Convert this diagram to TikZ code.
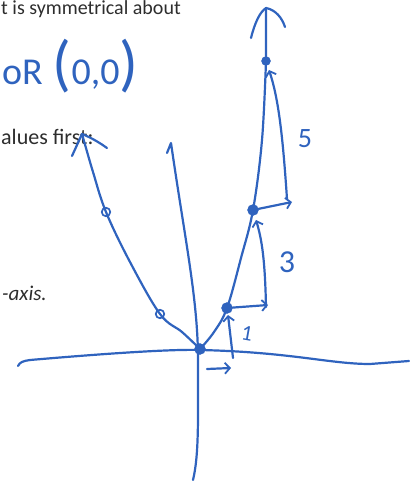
\documentclass[tikz,border=0pt]{standalone}
\usepackage{fontspec}
\setmainfont{Carlito}
\usepackage{xcolor}
\usepackage{tikz}
\usetikzlibrary{arrows.meta}
\definecolor{ink}{RGB}{47,99,190}
\definecolor{printed}{RGB}{45,45,45}

\begin{document}
\begin{tikzpicture}[
        x=1pt, y=-1pt,
        pen/.style={draw=ink, line width=2.2pt, line cap=round, line join=round},
        stepline/.style={pen, -{Straight Barb[length=5pt, width=11pt, line width=1.8pt]}},
        dot/.style={circle, fill=ink, draw=ink, inner sep=0pt, minimum size=11pt},
        ring/.style={circle, draw=ink, line width=1.7pt, inner sep=0pt, minimum size=8.5pt},
        doc/.style={text=printed, font=\fontsize{22}{24}\selectfont, inner sep=0pt, anchor=base west},
        note/.style={text=ink, font=\fontsize{38}{40}\selectfont, inner sep=0pt}
    ]
        \useasboundingbox (0,0) rectangle (409,481);

        % printed page text behind the sketch
        \node[doc, font=\fontsize{20}{22}\selectfont] (sym) at (1,15) {t is symmetrical about};
        \node[doc] (values) at (1,145) {alues first:};
        \node[doc, font=\fontsize{21}{23}\selectfont\itshape] (axis) at (2,300) {-axis.};

        % handwritten note
        \node[note, anchor=west] (origin) at (2,66) {oR\hspace{10pt}\fontsize{62}{64}\selectfont(\fontsize{38}{40}\selectfont0,0\fontsize{62}{64}\selectfont)};

        % axes
        \coordinate (xl) at (18,366);
        \coordinate (xr) at (409,361);
        \coordinate (yt) at (171,143);
        \coordinate (yb) at (193,480);
        \draw[pen] (xl) .. controls (20,362) and (23,361) .. (30,360)
            .. controls (100,354) and (170,349) .. (200,350)
            .. controls (290,352) and (330,364) .. (370,364) -- (xr);
        \draw[pen] (167,153) -- (yt) .. controls (185,240) and (198,300) .. (198,360)
            .. controls (198,420) and (199,455) .. (yb);

        % points of the parabola
        \node[dot] (o) at (200,349) {};
        \node[dot] (p1) at (227,308) {};
        \node[dot] (p3) at (253,210) {};
        \node[dot, minimum size=9pt] (p5) at (266,61) {};
        \node[ring] (q1) at (160,314) {};
        \node[ring] (q3) at (106,212) {};
        \coordinate (rtip) at (266,8);
        \coordinate (ltip) at (82,134);

        % parabola
        \draw[pen] plot[smooth, tension=0.6] coordinates {(o) (214,332) (p1) (241,258) (p3) (262,140) (p5)} -- (rtip);
        \draw[pen] plot[smooth, tension=0.6] coordinates {(o) (182,332) (q1) (130,262) (q3) (93,172) (ltip)};
        \draw[pen] (251,38) .. controls (255,22) and (260,12) .. (rtip)
            .. controls (276,10) and (282,18) .. (285,27);
        \draw[pen] (72,156) -- (ltip) .. controls (92,138) and (100,143) .. (107,148);

        % steps: over 1, up 1, 3, 5
        \draw[stepline] (207,369) -- (231,368);
        \draw[stepline] (233,358) -- (228,315);
        \draw[stepline] (p1) -- (268,305);
        \draw[stepline] (266,307) .. controls (265,260) and (262,240) .. (256,220);
        \draw[stepline] (p3) -- (292,202);
        \draw[stepline] (287,199) .. controls (283,140) and (279,100) .. (269,70);

        \node[note, font=\fontsize{22}{24}\selectfont, rotate=-10] (one) at (247,333) {1};
        \node[note, font=\fontsize{32}{34}\selectfont] (three) at (287,262) {3};
        \node[note, font=\fontsize{28}{30}\selectfont] (five) at (305,139) {5};
    \end{tikzpicture}
\end{document}
